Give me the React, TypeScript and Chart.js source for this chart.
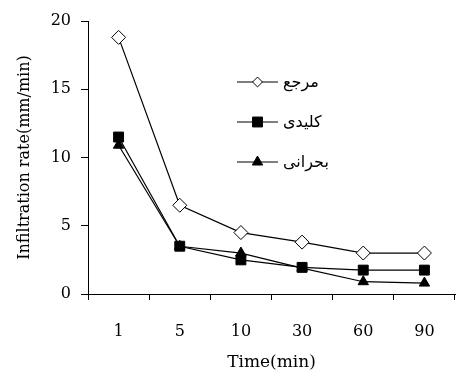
import React, { useEffect, useRef } from "react";
import { Chart, registerables } from "chart.js";

Chart.register(...registerables);

const categories = ["1", "5", "10", "30", "60", "90"];
const seriesNames = ["مرجع", "کلیدی", "بحرانی"];
const marja = [18.8, 6.5, 4.5, 3.8, 3.0, 3.0];
const kelidi = [11.5, 3.5, 2.5, 1.95, 1.75, 1.75];
const bohrani = [10.9, 3.5, 3.0, 1.9, 0.9, 0.8];
const yTitle = "Infiltration rate(mm/min)";
const xTitle = "Time(min)";

const FONT = "'DejaVu Serif', 'Liberation Serif', serif";

function drawMarker(ctx: CanvasRenderingContext2D, style: string, r: number, x: number, y: number) {
  ctx.beginPath();
  if (style === "rectRot") {
    const s = Math.SQRT1_2 * r;
    ctx.moveTo(x - s, y);
    ctx.lineTo(x, y + s);
    ctx.lineTo(x + s, y);
    ctx.lineTo(x, y - s);
    ctx.closePath();
  } else if (style === "rect") {
    const s = Math.SQRT1_2 * r;
    ctx.rect(x - s, y - s, 2 * s, 2 * s);
  } else {
    ctx.moveTo(x, y - r);
    ctx.lineTo(x + Math.sin((2 * Math.PI) / 3) * r, y - Math.cos((2 * Math.PI) / 3) * r);
    ctx.lineTo(x + Math.sin((4 * Math.PI) / 3) * r, y - Math.cos((4 * Math.PI) / 3) * r);
    ctx.closePath();
  }
  ctx.fill();
  ctx.stroke();
}

const lineLegend = {
  id: "lineLegend",
  afterDraw(chart: any) {
    const ctx = chart.ctx;
    const x0 = 237;
    const x1 = 278;
    const textX = 283;
    const rows = [82, 122, 162];
    ctx.save();
    chart.data.datasets.forEach((ds: any, i: number) => {
      const y = rows[i];
      ctx.strokeStyle = "#000";
      ctx.lineWidth = 1.2;
      ctx.beginPath();
      ctx.moveTo(x0, y);
      ctx.lineTo(x1, y);
      ctx.stroke();
      ctx.fillStyle = ds.pointBackgroundColor;
      ctx.strokeStyle = ds.pointBorderColor;
      ctx.lineWidth = 1;
      drawMarker(ctx, ds.pointStyle, ds.pointRadius, (x0 + x1) / 2, y);
      ctx.fillStyle = "#000";
      ctx.font = "16px 'DejaVu Sans', sans-serif";
      ctx.textAlign = "left";
      ctx.textBaseline = "middle";
      ctx.fillText(ds.label, textX, y + 1);
    });
    ctx.restore();
  },
};

export default function App() {
  const ref = useRef<HTMLCanvasElement>(null);
  useEffect(() => {
    if (!ref.current) return;
    const chart = new Chart(ref.current, {
      type: "line",
      data: {
        labels: categories,
        datasets: [
          {
            label: seriesNames[0],
            data: marja,
            borderColor: "#000",
            borderWidth: 1.2,
            pointStyle: "rectRot",
            pointRadius: 7,
            pointBackgroundColor: "#fff",
            pointBorderColor: "#000",
            pointBorderWidth: 1,
            tension: 0,
          },
          {
            label: seriesNames[1],
            data: kelidi,
            borderColor: "#000",
            borderWidth: 1.2,
            pointStyle: "rect",
            pointRadius: 7,
            pointBackgroundColor: "#000",
            pointBorderColor: "#000",
            pointBorderWidth: 1,
            tension: 0,
          },
          {
            label: seriesNames[2],
            data: bohrani,
            borderColor: "#000",
            borderWidth: 1.2,
            pointStyle: "triangle",
            pointRadius: 6,
            pointBackgroundColor: "#000",
            pointBorderColor: "#000",
            pointBorderWidth: 1,
            tension: 0,
          },
        ],
      },
      options: {
        animation: false,
        responsive: false,
        devicePixelRatio: 1,
        layout: { padding: { top: 21, right: 11, left: 0, bottom: 0 } },
        plugins: { legend: { display: false }, tooltip: { enabled: false } },
        scales: {
          x: {
            type: "category",
            offset: true,
            grid: {
              offset: true,
              drawOnChartArea: false,
              drawTicks: true,
              tickLength: 6,
              color: "#000",
            },
            border: { display: true, color: "#000", width: 1 },
            ticks: {
              color: "#000",
              padding: 22,
              font: { family: FONT, size: 16 },
              maxRotation: 0,
            },
            title: {
              display: true,
              text: xTitle,
              color: "#000",
              font: { family: FONT, size: 17 },
              padding: { top: 0, bottom: 6 },
            },
            afterFit: (scale: any) => {
              scale.height = 85;
            },
          },
          y: {
            min: 0,
            max: 20,
            grid: {
              drawOnChartArea: false,
              drawTicks: true,
              tickLength: 7,
              color: "#000",
            },
            border: { display: true, color: "#000", width: 1 },
            ticks: {
              stepSize: 5,
              color: "#000",
              padding: 10,
              font: { family: FONT, size: 16 },
            },
            title: {
              display: true,
              text: yTitle,
              color: "#000",
              font: { family: FONT, size: 16 },
              padding: { top: 15, bottom: 0 },
            },
            afterFit: (scale: any) => {
              scale.width = 88;
            },
          },
        },
      },
      plugins: [lineLegend],
    } as any);
    return () => chart.destroy();
  }, []);
  return (
    <div style={{ position: "fixed", left: 0, top: 0, width: 466, height: 379, background: "#fff" }}>
      <canvas ref={ref} width={466} height={379} style={{ width: 466, height: 379 }} />
    </div>
  );
}
